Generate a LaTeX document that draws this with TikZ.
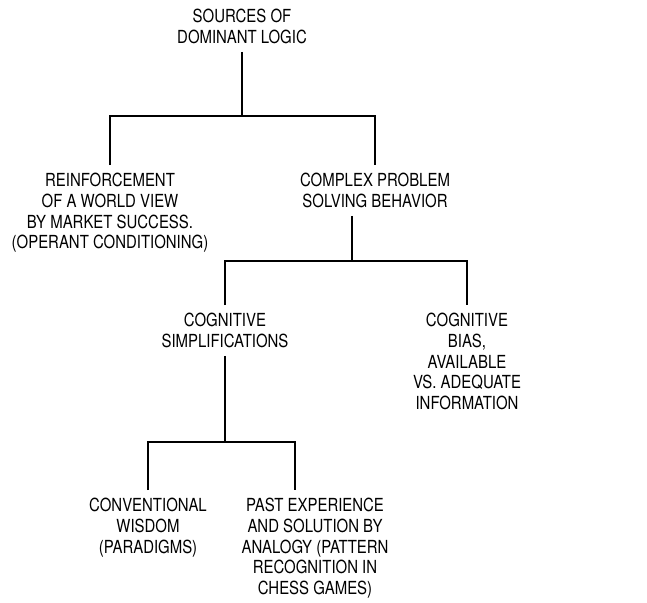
\documentclass[tikz,border=0pt]{standalone}
\usepackage{fontspec}
\setmainfont{TeX Gyre Heros}[FakeStretch=0.83]
\usepackage{tikz}
\newcommand{\lblFont}{\fontsize{18}{20.7}\selectfont}

\begin{document}
\begin{tikzpicture}[x=1pt, y=-1pt,
    lbl/.style={align=center, inner xsep=0pt, inner ysep=8pt, anchor=north, font=\lblFont},
    link/.style={line width=1.1pt}]
  \useasboundingbox[fill=white] (0,0) rectangle (647,602);
  \node[lbl] (src) at (242,1) {SOURCES OF\\DOMINANT LOGIC};
  \node[lbl] (reinf) at (110,165) {REINFORCEMENT\\OF A WORLD VIEW\\BY MARKET SUCCESS.\\(OPERANT CONDITIONING)};
  \node[lbl] (complex) at (375,165) {COMPLEX PROBLEM\\SOLVING BEHAVIOR};
  \node[lbl] (cogSimp) at (225,305) {COGNITIVE\\SIMPLIFICATIONS};
  \node[lbl] (cogBias) at (467,305) {COGNITIVE\\BIAS,\\AVAILABLE\\VS. ADEQUATE\\INFORMATION};
  \node[lbl] (convWis) at (148,490) {CONVENTIONAL\\WISDOM\\(PARADIGMS)};
  \node[lbl] (pastExp) at (315,490) {PAST EXPERIENCE\\AND SOLUTION BY\\ANALOGY (PATTERN\\RECOGNITION IN\\CHESS GAMES)};
  % branch points
  \coordinate (j1) at (242,116);
  \coordinate (j2) at (352,261);
  \coordinate (j3) at (225,442);
  \coordinate (pastTop) at (295,490);
  \draw[link] (src.south) -- (j1);
  \draw[link] (reinf.north) |- (j1) -| (complex.north);
  \draw[link] (j2 |- complex.south) -- (j2);
  \draw[link] (cogSimp.north) |- (j2) -| (cogBias.north);
  \draw[link] (j3 |- cogSimp.south) -- (j3);
  \draw[link] (convWis.north) |- (j3) -| (pastTop);
\end{tikzpicture}
\end{document}
